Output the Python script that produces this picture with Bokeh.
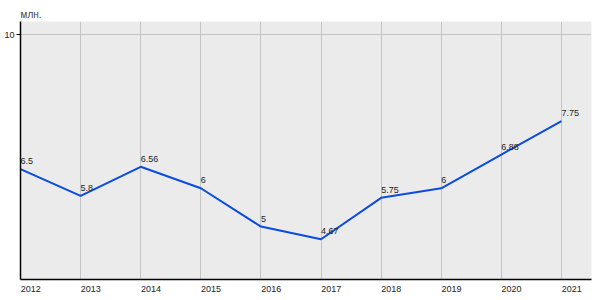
from bokeh.plotting import figure
from bokeh.models import FixedTicker, ColumnDataSource, Range1d, CustomJSTickFormatter
from bokeh.core.properties import value
from bokeh.embed import file_html
from bokeh.resources import INLINE

years = [2012, 2013, 2014, 2015, 2016, 2017, 2018, 2019, 2020, 2021]
values = [6.5, 5.8, 6.56, 6.0, 5.0, 4.67, 5.75, 6.0, 6.88, 7.75]
labels = ["6.5", "5.8", "6.56", "6", "5", "4.67", "5.75", "6", "6.88", "7.75"]
y_ticks = [10]
unit = "млн."

FONT = "Liberation Sans"
LABEL_SHIFT = 0.17  # x tick labels sit to the right of their gridline

src = ColumnDataSource(dict(x=years, y=values, t=labels))

p = figure(width=600, height=300, output_backend="svg", toolbar_location=None,
           x_range=Range1d(2012, 2021.5), y_range=Range1d(3.62, 10.35),
           min_border_left=20, min_border_right=9, min_border_top=21,
           min_border_bottom=21)

p.title.text = unit
p.title.text_font = FONT
p.title.text_font_size = "10px"
p.title.text_font_style = "normal"
p.title.align = "left"
p.title.standoff = 3

p.background_fill_color = "#ebebeb"
p.border_fill_color = "white"
p.outline_line_color = None

p.line("x", "y", source=src, line_color="#0a4be0", line_width=2)
p.text("x", "y", text="t", source=src, text_align="left", text_baseline="bottom",
       y_offset=-5, text_font=value(FONT), text_font_size="9px", text_color="#222222")

p.xaxis.ticker = FixedTicker(ticks=[y + LABEL_SHIFT for y in years])
p.xaxis.formatter = CustomJSTickFormatter(code="return String(Math.floor(tick));")
p.xaxis.major_tick_out = 0
p.xaxis.major_tick_in = 0
p.xaxis.minor_tick_line_color = None
p.xaxis.major_label_standoff = 6
p.xaxis.major_label_text_font = FONT
p.xaxis.major_label_text_font_size = "9px"
p.xaxis.major_label_text_color = "#222222"
p.xaxis.axis_line_color = "black"
p.xaxis.axis_line_width = 1.5

p.yaxis.ticker = FixedTicker(ticks=y_ticks)
p.yaxis.major_tick_out = 4
p.yaxis.major_tick_in = 0
p.yaxis.minor_tick_line_color = None
p.yaxis.major_label_standoff = 2
p.yaxis.major_label_text_font = FONT
p.yaxis.major_label_text_font_size = "9px"
p.yaxis.major_label_text_color = "#222222"
p.yaxis.axis_line_color = "black"
p.yaxis.axis_line_width = 1.5

p.xgrid.ticker = FixedTicker(ticks=years)
p.ygrid.ticker = FixedTicker(ticks=y_ticks)
p.grid.grid_line_color = "#c4c4c4"
p.grid.grid_line_width = 1

open("out.html", "w").write(file_html(p, INLINE))
